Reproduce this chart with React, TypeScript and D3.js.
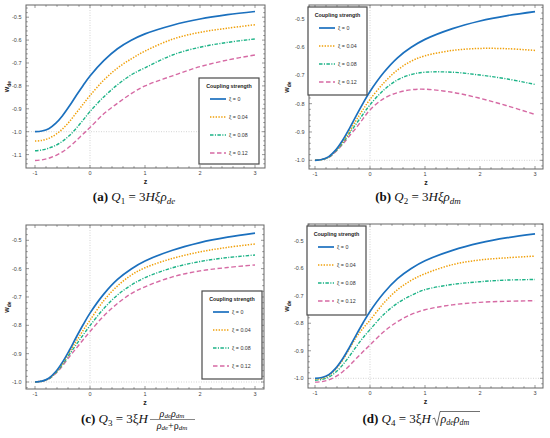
import * as d3 from "d3"

const zValues = [-1, -0.875, -0.75, -0.625, -0.5, -0.375, -0.25, -0.125, 0, 0.25, 0.5, 0.75, 1, 1.5, 2, 2.5, 3]

// xi = 0 is the same curve in every panel
const wXi0 = [-1.0, -0.997, -0.987, -0.964, -0.93, -0.888, -0.842, -0.798, -0.757, -0.69, -0.638, -0.601, -0.573, -0.535, -0.508, -0.489, -0.475]

// (a) Q1 = 3 H xi rho_de
const q1Xi004 = [-1.041, -1.038, -1.029, -1.012, -0.988, -0.956, -0.918, -0.88, -0.842, -0.775, -0.722, -0.682, -0.648, -0.596, -0.566, -0.548, -0.533]
const q1Xi008 = [-1.083, -1.08, -1.072, -1.06, -1.042, -1.017, -0.985, -0.949, -0.912, -0.848, -0.795, -0.752, -0.721, -0.665, -0.631, -0.61, -0.595]
const q1Xi012 = [-1.126, -1.123, -1.116, -1.104, -1.088, -1.066, -1.039, -1.01, -0.982, -0.922, -0.876, -0.834, -0.8, -0.756, -0.716, -0.687, -0.665]

// (b) Q2 = 3 H xi rho_dm
const q2Xi004 = [-1.0, -0.997, -0.988, -0.966, -0.936, -0.898, -0.858, -0.82, -0.785, -0.727, -0.681, -0.65, -0.631, -0.612, -0.605, -0.606, -0.612]
const q2Xi008 = [-1.0, -0.997, -0.989, -0.968, -0.94, -0.905, -0.871, -0.837, -0.804, -0.752, -0.716, -0.697, -0.689, -0.689, -0.699, -0.713, -0.732]
const q2Xi012 = [-1.0, -0.997, -0.99, -0.97, -0.944, -0.914, -0.885, -0.853, -0.822, -0.782, -0.761, -0.751, -0.749, -0.76, -0.781, -0.808, -0.838]

// (c) Q3 = 3 xi H rho_de rho_dm / (rho_de + rho_dm)
const q3Xi004 = [-1.0, -0.997, -0.988, -0.966, -0.935, -0.895, -0.856, -0.818, -0.782, -0.713, -0.661, -0.623, -0.597, -0.564, -0.541, -0.525, -0.513]
const q3Xi008 = [-1.0, -0.997, -0.989, -0.968, -0.939, -0.903, -0.868, -0.834, -0.801, -0.741, -0.693, -0.658, -0.632, -0.597, -0.575, -0.561, -0.552]
const q3Xi012 = [-1.0, -0.997, -0.99, -0.97, -0.943, -0.911, -0.881, -0.851, -0.822, -0.767, -0.723, -0.688, -0.664, -0.629, -0.608, -0.596, -0.587]

// (d) Q4 = 3 xi H sqrt(rho_de rho_dm)
const q4Xi004 = [-1.003, -1.0, -0.99, -0.967, -0.935, -0.893, -0.851, -0.818, -0.789, -0.727, -0.678, -0.644, -0.62, -0.587, -0.57, -0.562, -0.556]
const q4Xi008 = [-1.007, -1.004, -0.996, -0.978, -0.952, -0.92, -0.885, -0.852, -0.823, -0.768, -0.727, -0.699, -0.678, -0.659, -0.649, -0.643, -0.641]
const q4Xi012 = [-1.014, -1.012, -1.006, -0.994, -0.977, -0.954, -0.928, -0.903, -0.879, -0.831, -0.794, -0.768, -0.751, -0.733, -0.724, -0.72, -0.718]

const legendLabels = ["ξ = 0", "ξ = 0.04", "ξ = 0.08", "ξ = 0.12"]
const xTickValues = [-1, 0, 1, 2, 3]
const yTicksA = [-1.1, -1.0, -0.9, -0.8, -0.7, -0.6, -0.5]
const yTicksB = [-1.0, -0.9, -0.8, -0.7, -0.6, -0.5]

const styles = [
  { color: "#1b70be", width: 1.7, dash: "" },
  { color: "#f0a00a", width: 1.5, dash: "1.4,1.4" },
  { color: "#1db387", width: 1.4, dash: "3.5,1.4,1.1,1.4" },
  { color: "#d66aa4", width: 1.4, dash: "4.5,2.5" },
]

const sans = "Liberation Sans, Arial, sans-serif"
const serif = "Liberation Serif, Times New Roman, serif"

type Frame = { x0: number; x1: number; y0: number; y1: number }
type Box = { x: number; y: number; w: number; h: number }

function Panel(props: {
  id: string
  frame: Frame
  xRange: [number, number]
  yRange: [number, number]
  yTicks: number[]
  legend: Box
  yLabelX: number
  series: number[][]
}) {
  const { id, frame, xRange, yRange, yTicks, legend, yLabelX, series } = props
  const x = d3.scaleLinear().domain([-1, 3]).range(xRange)
  const y = d3.scaleLinear().domain([-1, -0.5]).range(yRange)

  const line = d3
    .line<number>()
    .x((_, i) => x(zValues[i]))
    .y((d) => y(d))
    .curve(d3.curveCatmullRom.alpha(0.5))

  // minor ticks: 0.2 on z, 0.02 on w
  const zLo = x.invert(frame.x0)
  const zHi = x.invert(frame.x1)
  const xt: { v: number; major: boolean }[] = []
  for (let k = Math.ceil(zLo * 5); k <= Math.floor(zHi * 5); k++) xt.push({ v: k / 5, major: k % 5 === 0 })
  const wLo = y.invert(frame.y1)
  const wHi = y.invert(frame.y0)
  const yt: { v: number; major: boolean }[] = []
  for (let k = Math.ceil(wLo * 50 - 1e-6); k <= Math.floor(wHi * 50 + 1e-6); k++) yt.push({ v: k / 50, major: k % 5 === 0 })

  const tickColor = "#555"
  const cy = (frame.y0 + frame.y1) / 2

  return (
    <g>
      <defs>
        <clipPath id={`clip-${id}`}>
          <rect x={frame.x0} y={frame.y0} width={frame.x1 - frame.x0} height={frame.y1 - frame.y0} />
        </clipPath>
      </defs>

      {/* axes through the origin, drawn dotted */}
      <line x1={x(0)} x2={x(0)} y1={frame.y0} y2={frame.y1} stroke="#c8c8c8" strokeWidth={0.8} strokeDasharray="1,1.5" />
      <line x1={frame.x0} x2={frame.x1} y1={y(-1)} y2={y(-1)} stroke="#c8c8c8" strokeWidth={0.8} strokeDasharray="1,1.5" />

      <g clipPath={`url(#clip-${id})`}>
        {series
          .map((s, i) => ({ s, i }))
          .reverse()
          .map(({ s, i }) => (
            <path
              key={i}
              d={line(s) || ""}
              fill="none"
              stroke={styles[i].color}
              strokeWidth={styles[i].width}
              strokeDasharray={styles[i].dash || undefined}
            />
          ))}
      </g>

      {/* frame and inward ticks */}
      <rect x={frame.x0} y={frame.y0} width={frame.x1 - frame.x0} height={frame.y1 - frame.y0} fill="none" stroke="#666" strokeWidth={1} />
      {xt.map((t, i) => {
        const len = t.major ? 3 : 1.8
        return (
          <g key={`x${i}`} stroke={tickColor} strokeWidth={0.6}>
            <line x1={x(t.v)} x2={x(t.v)} y1={frame.y1} y2={frame.y1 - len} />
            <line x1={x(t.v)} x2={x(t.v)} y1={frame.y0} y2={frame.y0 + len} />
          </g>
        )
      })}
      {yt.map((t, i) => {
        const len = t.major ? 3 : 1.8
        return (
          <g key={`y${i}`} stroke={tickColor} strokeWidth={0.6}>
            <line x1={frame.x0} x2={frame.x0 + len} y1={y(t.v)} y2={y(t.v)} />
            <line x1={frame.x1} x2={frame.x1 - len} y1={y(t.v)} y2={y(t.v)} />
          </g>
        )
      })}

      {xTickValues.map((v) => (
        <text key={`xl${v}`} x={x(v)} y={frame.y1 + 6.5} textAnchor="middle" fontFamily={sans} fontSize={5.5} fill="#444">
          {v < 0 ? `-${Math.abs(v)}` : `${v}`}
        </text>
      ))}
      {yTicks.map((v) => (
        <text key={`yl${v}`} x={frame.x0 - 4.5} y={y(v)} dy="0.35em" textAnchor="end" fontFamily={sans} fontSize={5.5} fill="#444">
          {v.toFixed(1)}
        </text>
      ))}

      <text x={(frame.x0 + frame.x1) / 2} y={frame.y1 + 16} textAnchor="middle" fontFamily={sans} fontSize={7} fontWeight="bold" fill="#222">
        z
      </text>
      <text transform={`translate(${yLabelX},${cy}) rotate(-90)`} textAnchor="middle" fontFamily={sans} fontSize={7} fontWeight="bold" fill="#222">
        w<tspan fontSize={5} dy={1.5}>de</tspan>
      </text>

      {/* legend */}
      <rect x={legend.x} y={legend.y} width={legend.w} height={legend.h} fill="#fff" stroke="#4a4a4a" strokeWidth={1.2} />
      <text x={legend.x + legend.w / 2} y={legend.y + 10} textAnchor="middle" fontFamily={sans} fontSize={5.3} fontWeight="bold" fill="#222">
        Coupling strength
      </text>
      {legendLabels.map((lab, i) => {
        const ly = legend.y + 21 + i * 18
        return (
          <g key={lab}>
            <line
              x1={legend.x + 11}
              x2={legend.x + 27}
              y1={ly}
              y2={ly}
              stroke={styles[i].color}
              strokeWidth={styles[i].width}
              strokeDasharray={styles[i].dash || undefined}
            />
            <text x={legend.x + 30} y={ly} dy="0.35em" fontFamily={sans} fontSize={5.3} fill="#333">
              {lab}
            </text>
          </g>
        )
      })}
    </g>
  )
}

export default function App() {
  const sub = 9
  return (
    <svg width={550} height={438} style={{ position: "absolute", left: 0, top: 0, background: "#fff" }}>
      <Panel
        id="a"
        frame={{ x0: 26, x1: 265, y0: 5, y1: 168 }}
        xRange={[35, 255]}
        yRange={[131.7, 17.2]}
        yTicks={yTicksA}
        legend={{ x: 199, y: 78, w: 60, h: 86 }}
        yLabelX={9}
        series={[wXi0, q1Xi004, q1Xi008, q1Xi012]}
      />
      <Panel
        id="b"
        frame={{ x0: 309, x1: 543, y0: 5, y1: 169 }}
        xRange={[315, 535]}
        yRange={[160.3, 18.7]}
        yTicks={yTicksB}
        legend={{ x: 308, y: 7, w: 59, h: 88 }}
        yLabelX={289}
        series={[wXi0, q2Xi004, q2Xi008, q2Xi012]}
      />
      <Panel
        id="c"
        frame={{ x0: 26, x1: 264, y0: 225, y1: 389 }}
        xRange={[35, 255]}
        yRange={[382, 240.3]}
        yTicks={yTicksB}
        legend={{ x: 202, y: 291, w: 60, h: 88 }}
        yLabelX={9}
        series={[wXi0, q3Xi004, q3Xi008, q3Xi012]}
      />
      <Panel
        id="d"
        frame={{ x0: 308, x1: 543, y0: 224, y1: 388 }}
        xRange={[315, 535]}
        yRange={[378.3, 240.7]}
        yTicks={yTicksB}
        legend={{ x: 307, y: 226, w: 59, h: 89 }}
        yLabelX={289}
        series={[wXi0, q4Xi004, q4Xi008, q4Xi012]}
      />

      {/* captions */}
      <text x={134} y={201} textAnchor="middle" fontFamily={serif} fontSize={13} fill="#111">
        <tspan fontWeight="bold">(a)</tspan>
        <tspan fontStyle="italic">{" Q"}</tspan>
        <tspan fontSize={sub} dy={2.5}>1</tspan>
        <tspan dy={-2.5}>{" = 3"}</tspan>
        <tspan fontStyle="italic">Hξρ</tspan>
        <tspan fontStyle="italic" fontSize={sub} dy={2.5}>de</tspan>
      </text>
      <text x={418} y={201} textAnchor="middle" fontFamily={serif} fontSize={13} fill="#111">
        <tspan fontWeight="bold">(b)</tspan>
        <tspan fontStyle="italic">{" Q"}</tspan>
        <tspan fontSize={sub} dy={2.5}>2</tspan>
        <tspan dy={-2.5}>{" = 3"}</tspan>
        <tspan fontStyle="italic">Hξρ</tspan>
        <tspan fontStyle="italic" fontSize={sub} dy={2.5}>dm</tspan>
      </text>

      <text x={148} y={423} textAnchor="end" fontFamily={serif} fontSize={13} fill="#111">
        <tspan fontWeight="bold">(c)</tspan>
        <tspan fontStyle="italic">{" Q"}</tspan>
        <tspan fontSize={sub} dy={2.5}>3</tspan>
        <tspan dy={-2.5}>{" = 3ξ"}</tspan>
        <tspan fontStyle="italic">H</tspan>
      </text>
      <text x={172} y={416.5} textAnchor="middle" fontFamily={serif} fontSize={10} fontStyle="italic" fill="#111">
        ρ<tspan fontSize={7} dy={1.5}>de</tspan>
        <tspan dy={-1.5}>ρ</tspan>
        <tspan fontSize={7} dy={1.5}>dm</tspan>
      </text>
      <line x1={150} x2={195} y1={419.5} y2={419.5} stroke="#111" strokeWidth={0.5} />
      <text x={172} y={428.5} textAnchor="middle" fontFamily={serif} fontSize={10} fontStyle="italic" fill="#111">
        ρ<tspan fontSize={7} dy={1.5}>de</tspan>
        <tspan dy={-1.5} fontStyle="normal">+ρ</tspan>
        <tspan fontSize={7} dy={1.5}>dm</tspan>
      </text>

      <text x={431} y={423} textAnchor="end" fontFamily={serif} fontSize={13} fill="#111">
        <tspan fontWeight="bold">(d)</tspan>
        <tspan fontStyle="italic">{" Q"}</tspan>
        <tspan fontSize={sub} dy={2.5}>4</tspan>
        <tspan dy={-2.5}>{" = 3ξ"}</tspan>
        <tspan fontStyle="italic">H</tspan>
      </text>
      <path d="M432.5,419 L434.5,418 L437,425.5 L440,411.5 L480,411.5" fill="none" stroke="#111" strokeWidth={0.6} />
      <text x={440.5} y={423} fontFamily={serif} fontSize={12} fontStyle="italic" fill="#111">
        ρ<tspan fontSize={8} dy={2}>de</tspan>
        <tspan dy={-2}>ρ</tspan>
        <tspan fontSize={8} dy={2}>dm</tspan>
      </text>
    </svg>
  )
}
